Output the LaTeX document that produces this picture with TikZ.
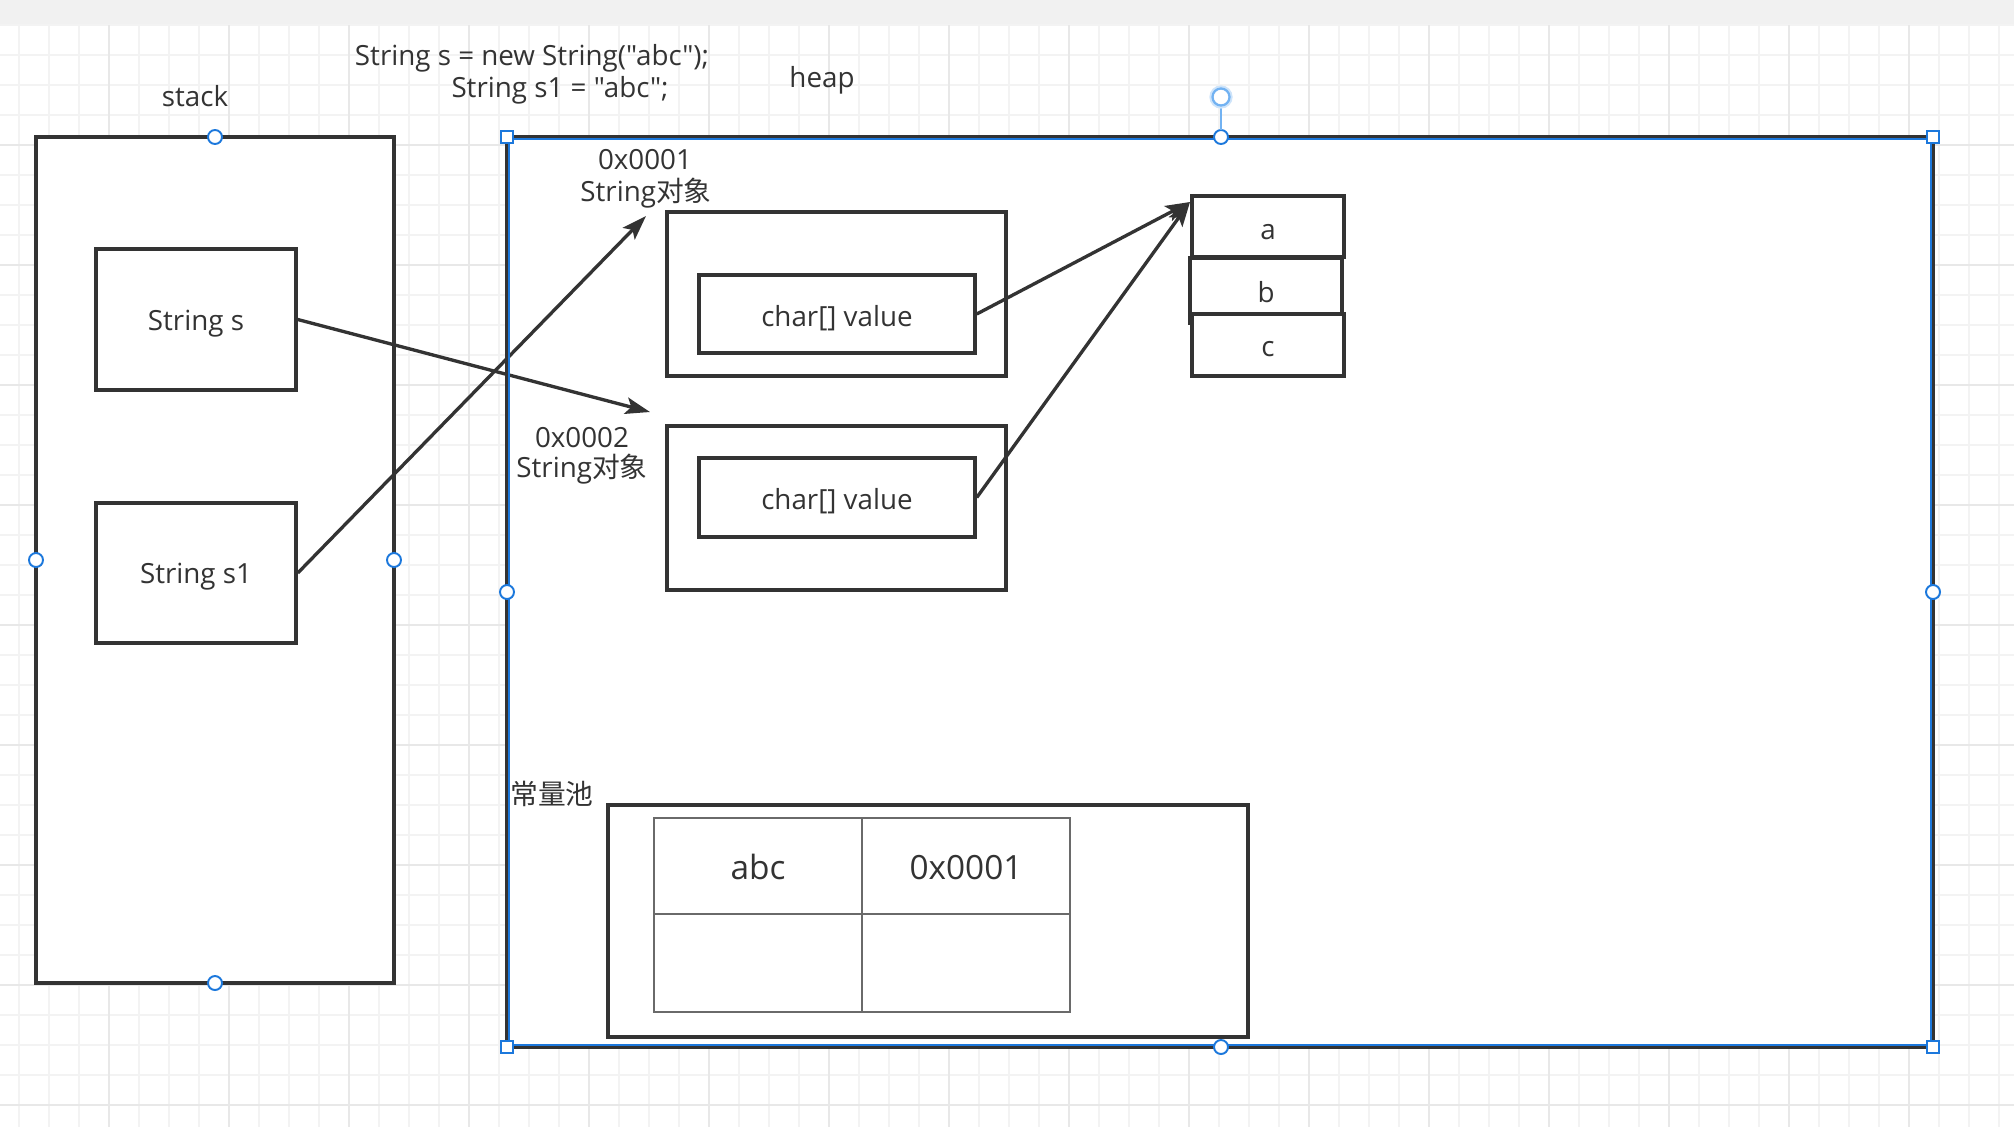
\documentclass[tikz,border=0pt]{standalone}
\usepackage{fontspec}
\setmainfont{Open Sans}
\newfontfamily\plain{Open Sans}
\newfontfamily\cjk{Noto Sans CJK SC}
\usetikzlibrary{arrows.meta,fit}

\definecolor{ink}{HTML}{333333}
\definecolor{gridminor}{HTML}{F3F3F3}
\definecolor{gridmajor}{HTML}{E8E8E8}
\definecolor{selblue}{HTML}{1C78DC}
\definecolor{rotblue}{HTML}{72B2F2}
\definecolor{topband}{HTML}{F1F1F1}
\definecolor{tablegray}{HTML}{6A6A6A}

\begin{document}
\begin{tikzpicture}[x=0.02cm, y=-0.02cm,
  every node/.style={font=\plain\fontsize{15.8}{19}\selectfont, text=ink},
  block/.style={draw=ink, line width=2pt, fill=white, inner sep=0pt, fit={#1}},
  cell/.style={draw=tablegray, line width=0.9pt, inner sep=0pt, fit={#1}},
  boxtext/.style={yshift=-2.3pt},
  celltext/.style={yshift=-0.8pt, font=\plain\fontsize{19}{23}\selectfont},
  label/.style={anchor=base, inner sep=0pt},
  pointer/.style={draw=ink, line width=1.9pt,
    -{Stealth[length=14pt, width=9.5pt, inset=3pt]}},
  roundhandle/.style={draw=selblue, fill=white, line width=1.1pt},
  squarehandle/.style={draw=selblue, fill=white, line width=1.1pt},
]
\useasboundingbox (0,0) rectangle (2014,1127);

% canvas: toolbar strip and grid
\fill[white] (0,25) rectangle (2014,1127);
\fill[topband] (0,0) rectangle (2014,25);
\foreach \gx in {19,49,...,2014} \draw[gridminor, line width=0.9pt] (\gx,25) -- (\gx,1127);
\foreach \gy in {25,55,...,1127} \draw[gridminor, line width=0.9pt] (0,\gy) -- (2014,\gy);
\foreach \gx in {109,229,...,2014} \draw[gridmajor, line width=1pt] (\gx,25) -- (\gx,1127);
\foreach \gy in {145,265,...,1127} \draw[gridmajor, line width=1pt] (0,\gy) -- (2014,\gy);

% stack
\node[block={(36,137) (394,983)}] (stack) {};
\node[label] (stacklbl) at (195,106) {stack};
\node[block={(96,249) (296,390)}] (s) {};
\node[boxtext] (stxt) at (s.center) {String s};
\node[block={(96,503) (296,643)}] (s1) {};
\node[boxtext] (s1txt) at (s1.center) {String s1};

% source lines
\node[label] (code1) at (532,65) {String s = new String("abc");};
\node[label] (code2) at (560,97) {String s1 = "abc";};

% heap
\node[label] (heaplbl) at (822,87) {heap};
\node[block={(507,137) (1933,1047)}] (heap) {};

\node[label] (addr1) at (645,169) {0x0001};
\node[label] (type1) at (646,201) {String{\cjk 对象}};
\node[block={(667,212) (1006,376)}] (obj1) {};
\node[block={(699,275) (975,353)}] (cv1) {};
\node[boxtext] (cv1txt) at (cv1.center) {char[] value};

\node[label] (addr2) at (582,447) {0x0002};
\node[label] (type2) at (582,477) {String{\cjk 对象}};
\node[block={(667,426) (1006,590)}] (obj2) {};
\node[block={(699,458) (975,537)}] (cv2) {};
\node[boxtext] (cv2txt) at (cv2.center) {char[] value};

% char array
\node[block={(1190,258) (1342,323)}] (cb) {};
\node[block={(1192,196) (1344,257)}] (ca) {};
\node[block={(1192,314) (1344,376)}] (cc) {};
\node[boxtext] (catxt) at (1268,228) {a};
\node[boxtext] (cbtxt) at (1266,288) {b};
\node[boxtext] (cctxt) at (1268,345) {c};

% constant pool
\node[label, anchor=base west] (poollbl) at (510,804) {\cjk 常量池};
\node[block={(608,805) (1248,1037)}] (pool) {};
\node[cell={(654,818) (862,914)}] (k1) {};
\node[cell={(862,818) (1070,914)}] (v1) {};
\node[cell={(654,914) (862,1012)}] (k2) {};
\node[cell={(862,914) (1070,1012)}] (v2) {};
\node[celltext] (k1txt) at (k1.center) {abc};
\node[celltext] (v1txt) at (v1.center) {0x0001};

% references
\coordinate (obj1ptr) at (646,216);
\coordinate (obj2ptr) at (650,412);
\coordinate (arrptr) at (1190,202);
\draw[pointer] (s.east) -- (obj2ptr);
\draw[pointer] (s1.east) -- (obj1ptr);
\draw[pointer] (cv1.east) -- (arrptr);
\draw[pointer] (cv2.east) -- (arrptr);

% selection outline and handles
\draw[selblue, line width=1.1pt] (509,139) rectangle (1931,1045);
\foreach \hx/\hy in {215/137, 215/983, 36/560, 394/560}
  \draw[roundhandle] (\hx,\hy) circle (7);
\foreach \hx/\hy in {1221/137, 1221/1047, 507/592, 1933/592}
  \draw[roundhandle] (\hx,\hy) circle (7);
\foreach \hx/\hy in {507/137, 1933/137, 507/1047, 1933/1047}
  \draw[squarehandle] (\hx-6,\hy-6) rectangle (\hx+6,\hy+6);
\draw[rotblue, line width=1.2pt] (1221,130) -- (1221,106);
\draw[rotblue!35, line width=3.5pt] (1221,97) circle (8.5);
\draw[rotblue, fill=white, line width=1.3pt] (1221,97) circle (8.5);
\end{tikzpicture}
\end{document}
